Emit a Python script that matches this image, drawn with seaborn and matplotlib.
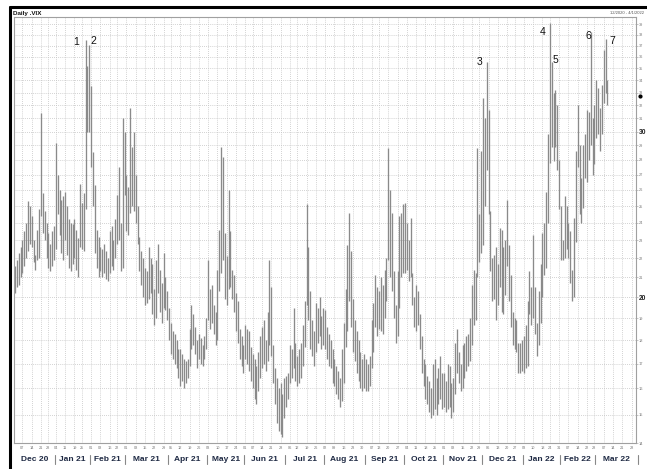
import numpy as np
import pandas as pd
import matplotlib
matplotlib.use("Agg")
import matplotlib.pyplot as plt
import matplotlib.transforms as mtransforms
from matplotlib.lines import Line2D
from matplotlib.ticker import FixedLocator, NullLocator
import seaborn as sns

# Trading calendar shown on the axis (NYSE holidays removed)
START_DATE = "2020-12-01"
END_DATE = "2022-03-31"
HOLIDAYS = ["2020-12-25", "2021-01-01", "2021-01-18", "2021-02-15", "2021-04-02",
            "2021-05-31", "2021-07-05", "2021-09-06", "2021-11-25", "2021-12-24",
            "2022-01-17", "2022-02-21"]
MONTH_LABELS = ["Dec 20", "Jan 21", "Feb 21", "Mar 21", "Apr 21", "May 21", "Jun 21",
                "Jul 21", "Aug 21", "Sep 21", "Oct 21", "Nov 21", "Dec 21", "Jan 22",
                "Feb 22", "Mar 22"]

# Daily VIX high / low
DEC20_HIGH = [21.6, 21.9, 22.3, 22.6, 23.0, 23.5, 24.0, 25.3, 25.0, 24.4, 23.0, 22.2, 23.6, 24.8, 31.4, 25.8, 24.7, 24.0, 23.4, 22.8, 23.5, 23.8]
DEC20_LOW = [20.2, 20.5, 20.6, 21.0, 21.2, 21.6, 22.0, 22.4, 22.8, 22.6, 21.8, 21.4, 21.9, 22.0, 24.4, 23.4, 23.0, 22.0, 21.5, 21.3, 21.6, 21.9]
JAN21_HIGH = [29.2, 27.0, 26.0, 25.4, 25.6, 25.9, 25.0, 24.2, 24.0, 23.9, 24.2, 23.6, 23.1, 26.4, 25.2, 25.8, 37.5, 35.2, 37.1]
JAN21_LOW = [22.5, 24.5, 23.3, 22.3, 21.9, 23.0, 22.2, 21.5, 21.3, 21.7, 22.0, 21.4, 21.0, 22.6, 22.5, 22.4, 24.8, 30.0, 30.0]
FEB21_HIGH = [33.5, 28.5, 26.3, 23.6, 23.2, 22.6, 22.5, 22.8, 22.4, 22.0, 23.5, 23.8, 23.0, 24.2, 25.7, 27.5, 24.0, 31.0, 30.0]
FEB21_LOW = [27.5, 25.0, 22.3, 21.5, 21.0, 21.3, 21.0, 21.2, 20.9, 20.8, 21.2, 21.6, 21.4, 22.0, 22.8, 23.0, 21.3, 21.5, 25.7]
MAR21_HIGH = [27.0, 26.2, 31.8, 28.9, 30.0, 27.0, 25.0, 23.2, 22.4, 22.0, 21.5, 21.3, 22.6, 22.0, 21.7, 20.4, 21.9, 22.8, 21.4, 20.7, 22.3, 21.0, 20.3]
MAR21_LOW = [23.5, 23.3, 24.6, 25.0, 24.7, 24.0, 22.8, 21.3, 20.6, 20.0, 19.6, 19.7, 19.9, 20.2, 19.2, 18.7, 19.0, 20.2, 19.3, 18.8, 19.5, 19.4, 18.9]
APR21_HIGH = [19.5, 18.8, 18.4, 18.3, 18.0, 17.6, 17.6, 17.4, 17.2, 17.1, 17.2, 18.5, 19.6, 19.2, 18.6, 18.0, 18.3, 18.1, 17.8, 18.2, 19.0]
APR21_LOW = [18.0, 17.4, 17.2, 17.0, 16.8, 16.4, 16.1, 16.3, 16.0, 16.2, 16.4, 16.9, 17.6, 17.8, 17.4, 16.8, 17.2, 17.0, 16.9, 17.2, 17.6]
MAY21_HIGH = [21.9, 20.4, 20.6, 19.6, 19.3, 21.4, 23.6, 28.9, 28.2, 23.4, 22.1, 26.0, 23.5, 21.4, 21.1, 20.2, 19.8, 18.5, 18.2, 17.8]
MAY21_LOW = [18.9, 18.5, 18.8, 18.3, 17.8, 18.0, 20.3, 21.2, 21.9, 19.9, 19.6, 20.4, 20.5, 19.9, 19.3, 18.4, 17.9, 17.2, 16.9, 16.6]
JUN21_HIGH = [18.7, 18.5, 18.4, 17.7, 17.4, 17.2, 16.9, 17.5, 18.2, 18.6, 18.9, 18.0, 19.3, 21.9, 20.5, 17.8, 16.8, 16.4, 16.0, 16.2, 15.8, 16.4]
JUN21_LOW = [17.2, 17.0, 16.7, 16.3, 16.0, 15.6, 15.4, 15.9, 16.4, 16.8, 17.0, 16.7, 17.1, 17.8, 17.3, 16.2, 15.4, 14.7, 14.4, 14.3, 14.2, 14.9]
JUL21_HIGH = [16.5, 16.6, 17.8, 17.6, 19.5, 17.9, 17.3, 17.6, 17.9, 18.7, 19.8, 25.1, 22.6, 20.3, 18.9, 18.4, 19.7, 19.5, 20.0, 19.1, 19.5]
JUL21_LOW = [15.3, 15.6, 16.2, 16.4, 16.8, 16.3, 16.1, 16.2, 16.4, 16.9, 17.7, 19.6, 18.9, 17.6, 17.3, 16.9, 17.5, 17.9, 18.2, 17.6, 17.8]
AUG21_HIGH = [19.4, 18.6, 18.3, 18.0, 17.6, 17.2, 16.9, 16.7, 16.4, 17.6, 18.8, 20.4, 22.7, 24.6, 22.4, 19.9, 18.9, 18.4, 18.0, 17.5, 17.2, 17.4]
AUG21_LOW = [17.6, 17.2, 16.9, 16.8, 16.2, 16.1, 15.8, 15.6, 15.3, 15.5, 16.2, 17.7, 18.4, 19.8, 18.6, 17.5, 17.1, 16.6, 16.3, 16.0, 15.9, 16.0]
SEP21_HIGH = [17.2, 17.0, 17.3, 18.9, 19.7, 21.1, 20.5, 20.3, 21.0, 20.6, 21.4, 22.0, 28.8, 26.0, 24.6, 21.3, 19.6, 21.3, 24.4, 24.6, 25.1]
SEP21_LOW = [15.9, 15.9, 16.1, 16.8, 17.5, 18.6, 18.2, 18.5, 18.4, 18.3, 19.0, 19.8, 21.9, 21.0, 20.3, 19.0, 17.9, 18.2, 19.5, 21.0, 21.2]
OCT21_HIGH = [25.2, 24.0, 23.0, 24.3, 21.2, 20.0, 20.6, 20.3, 19.2, 18.2, 17.2, 17.0, 16.5, 16.3, 16.0, 17.0, 17.2, 16.4, 16.8, 17.3, 16.6]
OCT21_LOW = [21.2, 21.4, 20.8, 21.0, 19.6, 18.6, 18.4, 18.7, 17.6, 16.6, 16.1, 15.6, 15.4, 15.1, 14.9, 15.0, 15.2, 15.0, 15.4, 15.6, 15.2]
NOV21_HIGH = [16.6, 16.3, 17.0, 16.9, 16.2, 16.4, 17.9, 18.5, 17.5, 17.0, 17.8, 17.9, 18.2, 18.3, 19.0, 20.6, 21.4, 21.2, 28.8, 24.5, 28.6]
NOV21_LOW = [15.3, 15.1, 15.2, 15.3, 14.9, 15.1, 15.8, 16.6, 16.2, 15.9, 16.0, 16.4, 16.7, 16.9, 17.1, 17.8, 18.7, 18.9, 21.0, 21.8, 22.3]
DEC21_HIGH = [32.6, 31.0, 35.6, 31.6, 24.7, 22.0, 22.2, 22.6, 21.7, 23.7, 23.6, 22.6, 23.0, 25.4, 22.7, 21.1, 19.3, 19.0, 18.9, 17.9, 17.9, 18.0]
DEC21_LOW = [22.7, 25.0, 27.3, 24.5, 21.3, 19.8, 19.9, 18.9, 19.6, 20.5, 19.3, 19.2, 20.1, 21.6, 19.8, 18.6, 17.8, 17.6, 17.5, 16.6, 16.6, 16.7]
JAN22_HIGH = [18.2, 18.7, 19.8, 21.3, 20.5, 23.3, 20.5, 18.8, 20.3, 21.7, 23.4, 24.0, 25.9, 29.8, 39.1, 35.6, 33.0, 33.2, 32.0, 28.0]
JAN22_LOW = [16.6, 16.8, 16.9, 19.2, 18.7, 19.0, 18.3, 17.3, 17.8, 18.8, 20.0, 21.1, 21.5, 24.0, 27.8, 28.9, 27.9, 28.9, 27.3, 24.8]
FEB22_HIGH = [25.0, 23.0, 25.6, 25.0, 24.0, 23.5, 21.4, 24.3, 28.6, 32.0, 29.0, 26.8, 29.0, 29.8, 31.6, 31.5, 38.3, 31.0, 32.0]
FEB22_LOW = [21.9, 21.9, 22.0, 22.5, 22.0, 20.7, 19.8, 20.0, 22.9, 27.5, 24.5, 24.0, 24.9, 26.8, 26.5, 28.0, 29.0, 27.0, 27.7]
MAR22_HIGH = [34.0, 33.4, 31.8, 33.6, 36.6, 37.6, 34.0]
MAR22_LOW = [29.5, 29.8, 28.6, 29.8, 32.2, 33.0, 32.0]
LAST_CLOSE = 32.7

# Numbered peaks: (trading-day index, label)
PEAKS = [(38, "1"), (40, "2"), (254, "3"), (288, "4"), (289, "5"), (310, "6"), (318, "7")]
PEAK_OFFSETS = [(-7, -1), (3, 3), (-5, 0), (-5, -6), (3, 1), (-2, -3), (5, -1)]

Y_LEVELS = list(range(14, 40))


def build_frame():
    highs = (DEC20_HIGH + JAN21_HIGH + FEB21_HIGH + MAR21_HIGH + APR21_HIGH + MAY21_HIGH
             + JUN21_HIGH + JUL21_HIGH + AUG21_HIGH + SEP21_HIGH + OCT21_HIGH + NOV21_HIGH
             + DEC21_HIGH + JAN22_HIGH + FEB22_HIGH + MAR22_HIGH)
    lows = (DEC20_LOW + JAN21_LOW + FEB21_LOW + MAR21_LOW + APR21_LOW + MAY21_LOW
            + JUN21_LOW + JUL21_LOW + AUG21_LOW + SEP21_LOW + OCT21_LOW + NOV21_LOW
            + DEC21_LOW + JAN22_LOW + FEB22_LOW + MAR22_LOW)
    df = pd.DataFrame({"high": highs, "low": lows})
    df["idx"] = np.arange(len(df))
    return df


def trading_days():
    days = pd.bdate_range(START_DATE, END_DATE)
    return days[~days.isin(pd.to_datetime(HOLIDAYS))]


def main():
    sns.set_style("white")
    plt.rcParams["font.family"] = ["Liberation Sans", "DejaVu Sans"]

    df = build_frame()
    days = trading_days()
    n_days = len(days)

    fig = plt.figure(figsize=(6.47, 4.69), dpi=100)
    W, H = 647, 469
    ax = fig.add_axes([14 / W, 1 - 443 / H, 622 / W, 426 / H])

    # range bars, grey lines like the source chart
    ax.vlines(df["idx"], df["low"], df["high"], color="#8a8a8a", linewidth=0.95)

    ax.set_yscale("log")
    ax.set_ylim(14.0, 39.7)
    ax.set_xlim(-0.5, n_days - 1.6)
    ax.yaxis.set_major_locator(FixedLocator(Y_LEVELS))
    ax.yaxis.set_minor_locator(NullLocator())
    ax.yaxis.tick_right()
    ax.set_yticklabels([str(v) for v in Y_LEVELS])
    for lab, v in zip(ax.get_yticklabels(), Y_LEVELS):
        if v in (20, 30):
            lab.set_fontsize(4.8)
            lab.set_fontweight("bold")
            lab.set_color("#222222")
        else:
            lab.set_fontsize(2.8)
            lab.set_color("#777777")
    ax.tick_params(axis="y", length=1.2, width=0.4, pad=0.8, color="#999999")

    # weekly ticks / grid on x
    week = days.to_period("W")
    week_starts = [i for i in range(1, n_days) if week[i] != week[i - 1]]
    ax.set_xticks(week_starts)
    ax.set_xticklabels([days[i].strftime("%d") for i in week_starts], fontsize=2.8, color="#777777")
    ax.tick_params(axis="x", length=0, pad=2)

    ax.grid(True, which="major", linestyle=(0, (1, 1.5)), color="#c4c4c4", linewidth=0.6)
    ax.set_axisbelow(True)
    for s in ax.spines.values():
        s.set_color("#a0a0a0")
        s.set_linewidth(0.8)

    # month labels and separators
    months = days.to_period("M")
    xtr = ax.get_xaxis_transform()
    for m, label in zip(months.unique(), MONTH_LABELS):
        pos = np.where(months == m)[0]
        ax.text(pos.mean(), -0.038, label, transform=xtr, ha="center", va="center",
                fontsize=6, fontweight="bold", color="#1f2a44")
        ax.plot([pos[-1] + 0.5] * 2, [-0.028, -0.05], transform=xtr, color="#888888",
                linewidth=0.8, clip_on=False)

    # numbered peaks
    for (i, txt), (dx, dy) in zip(PEAKS, PEAK_OFFSETS):
        ax.annotate(txt, (i, df["high"][i]), xytext=(dx, dy), textcoords="offset points",
                    ha="center", va="center", fontsize=7.5, color="#111111")

    # last price marker on the right axis
    ax.plot([1.006], [LAST_CLOSE], marker="o", markersize=2, color="black",
            transform=mtransforms.blended_transform_factory(ax.transAxes, ax.transData),
            clip_on=False)

    fig.text(13 / W, 1 - 13 / H, "Daily .VIX", fontsize=4.5, fontweight="bold",
             va="center", ha="left", color="#111111")
    fig.text(644 / W, 1 - 13 / H, "12/2020 - 4/1/2022", fontsize=3,
             va="center", ha="right", color="#555555")

    # black panel frame (top and left)
    fig.add_artist(Line2D([10 / W, 1], [1 - 7 / H, 1 - 7 / H], color="black", linewidth=2.2))
    fig.add_artist(Line2D([10 / W, 10 / W], [0, 1 - 7 / H], color="black", linewidth=2.2))

    fig.savefig("out.png", dpi=100)
    plt.close(fig)


if __name__ == "__main__":
    main()
